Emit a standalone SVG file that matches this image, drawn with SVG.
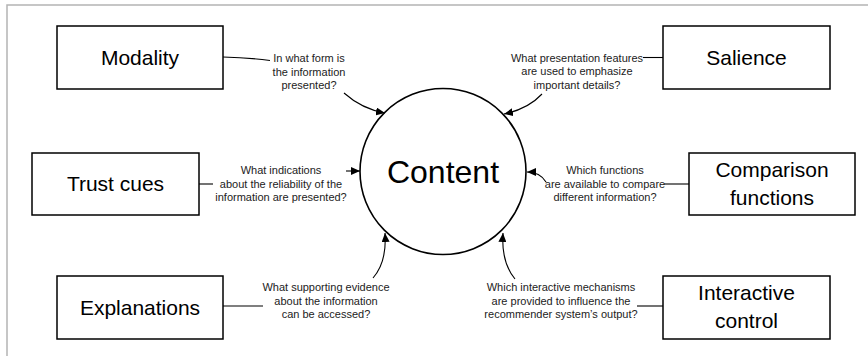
<svg xmlns="http://www.w3.org/2000/svg" width="868" height="356" viewBox="0 0 868 356">
<style>
.frame{fill:none;stroke:#b4b4b4;stroke-width:1.5}
.box{fill:#fff;stroke:#000;stroke-width:1.5}
.circ{fill:#fff;stroke:#000;stroke-width:1.6}
.btxt{font-family:"Liberation Sans",Arial,sans-serif;font-size:21px;fill:#000;text-anchor:middle}
.ctxt{font-family:"Liberation Sans",Arial,sans-serif;font-size:32px;fill:#000;text-anchor:middle}
.lbl{font-family:"Liberation Sans",Arial,sans-serif;font-size:11px;fill:#222;text-anchor:middle}
.ln{fill:none;stroke:#000;stroke-width:1.1}
.arr{fill:none;stroke:#000;stroke-width:1.1;marker-end:url(#ah)}
</style>
<defs>
<marker id="ah" markerUnits="userSpaceOnUse" markerWidth="10" markerHeight="8" refX="9" refY="4" orient="auto">
<path d="M0,0 L9,4 L0,8 Z" fill="#000"/>
</marker>
</defs>
<rect width="868" height="356" fill="#fff"/>
<path class="frame" d="M7,356 L7,5 L868,5"/>

<g id="content">
<circle class="circ" cx="443" cy="171.5" r="83"/>
<text class="ctxt" x="443" y="183">Content</text>
</g>

<g id="modality">
<rect class="box" x="57" y="26" width="166" height="63"/>
<text class="btxt" x="140" y="64.5">Modality</text>
</g>
<g id="salience">
<rect class="box" x="663" y="26" width="167" height="63"/>
<text class="btxt" x="746.5" y="64.5">Salience</text>
</g>
<g id="trust-cues">
<rect class="box" x="32" y="153" width="167" height="62"/>
<text class="btxt" x="115.5" y="191">Trust cues</text>
</g>
<g id="comparison-functions">
<rect class="box" x="689" y="153" width="166" height="62"/>
<text class="btxt" x="772" y="177">Comparison</text>
<text class="btxt" x="772" y="205">functions</text>
</g>
<g id="explanations">
<rect class="box" x="57" y="276" width="166" height="63"/>
<text class="btxt" x="140" y="314.5">Explanations</text>
</g>
<g id="interactive-control">
<rect class="box" x="663" y="276" width="167" height="63"/>
<text class="btxt" x="746.5" y="300">Interactive</text>
<text class="btxt" x="746.5" y="328">control</text>
</g>

<g id="connectors">
<path class="ln" d="M223,57 Q248,57.5 270,60.5"/>
<path class="arr" d="M344,93 Q362,109 385,113"/>
<path class="ln" d="M643,57.5 L663,57.5"/>
<path class="arr" d="M542,94 Q528,109 504,114"/>
<path class="ln" d="M199,184 L213,184"/>
<path class="arr" d="M346,171 L360,171"/>
<path class="ln" d="M664,184 L689,184"/>
<path class="arr" d="M546,182 Q540,172 527,172"/>
<path class="ln" d="M223,306 L263,306"/>
<path class="arr" d="M373,278 Q387,262 385,233"/>
<path class="ln" d="M637,306 L663,306"/>
<path class="arr" d="M515,279 Q501,262 503,233"/>
</g>

<g id="labels">
<text class="lbl" x="309" y="62">In what form is</text>
<text class="lbl" x="309" y="75.5">the information</text>
<text class="lbl" x="309" y="89">presented?</text>

<text class="lbl" x="577" y="61.5">What presentation features</text>
<text class="lbl" x="577" y="75">are used to emphasize</text>
<text class="lbl" x="577" y="88.5">important details?</text>

<text class="lbl" x="281" y="174">What indications</text>
<text class="lbl" x="281" y="187.5">about the reliability of the</text>
<text class="lbl" x="281" y="201">information are presented?</text>

<text class="lbl" x="605" y="174">Which functions</text>
<text class="lbl" x="605" y="187.5">are available to compare</text>
<text class="lbl" x="605" y="201">different information?</text>

<text class="lbl" x="326" y="291">What supporting evidence</text>
<text class="lbl" x="326" y="304.5">about the information</text>
<text class="lbl" x="326" y="318">can be accessed?</text>

<text class="lbl" x="561" y="291">Which interactive mechanisms</text>
<text class="lbl" x="561" y="304.5">are provided to influence the</text>
<text class="lbl" x="561" y="318">recommender system’s output?</text>
</g>
</svg>
